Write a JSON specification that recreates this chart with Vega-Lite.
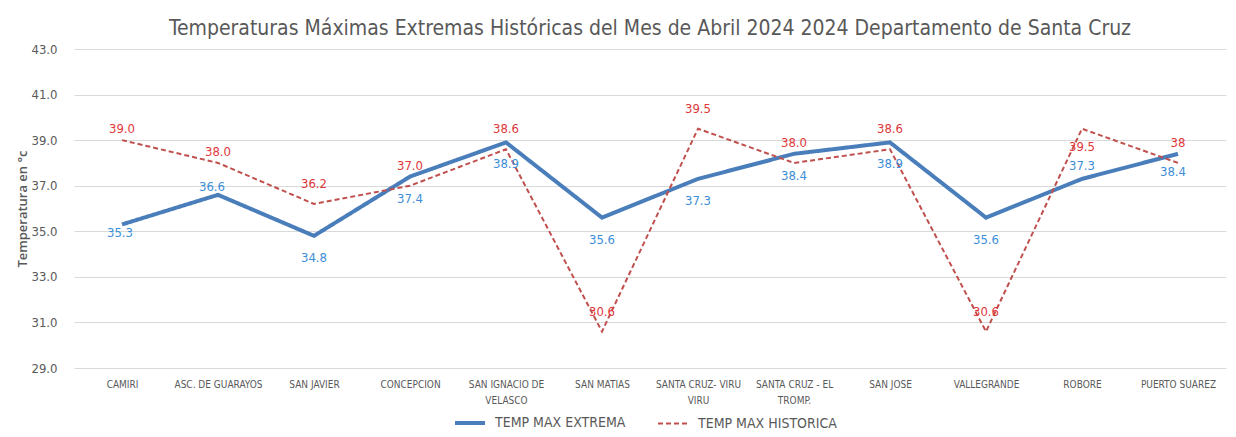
{
  "$schema": "https://vega.github.io/schema/vega-lite/v6.json",
  "autosize": "none",
  "width": 1152,
  "height": 319,
  "padding": {"left": 74, "top": 49, "right": 10, "bottom": 69},
  "background": "white",
  "title": {
    "text": "Temperaturas Máximas Extremas Históricas del Mes de Abril 2024 2024 Departamento de Santa Cruz",
    "font": "Liberation Sans Narrow, DejaVu Sans Condensed, sans-serif",
    "fontSize": 21,
    "fontWeight": "normal",
    "color": "#595959",
    "anchor": "middle",
    "offset": 4
  },
  "data": {
    "values": [
      {"station": "CAMIRI", "extrema": 35.3, "historica": 39.0},
      {"station": "ASC. DE GUARAYOS", "extrema": 36.6, "historica": 38.0},
      {"station": "SAN JAVIER", "extrema": 34.8, "historica": 36.2},
      {"station": "CONCEPCION", "extrema": 37.4, "historica": 37.0},
      {"station": "SAN IGNACIO DE VELASCO", "extrema": 38.9, "historica": 38.6},
      {"station": "SAN MATIAS", "extrema": 35.6, "historica": 30.6},
      {"station": "SANTA CRUZ- VIRU VIRU", "extrema": 37.3, "historica": 39.5},
      {"station": "SANTA CRUZ - EL TROMP.", "extrema": 38.4, "historica": 38.0},
      {"station": "SAN JOSE", "extrema": 38.9, "historica": 38.6},
      {"station": "VALLEGRANDE", "extrema": 35.6, "historica": 30.6},
      {"station": "ROBORE", "extrema": 37.3, "historica": 39.5},
      {"station": "PUERTO SUAREZ", "extrema": 38.4, "historica": 38.0}
    ]
  },
  "encoding": {
    "x": {
      "field": "station",
      "type": "nominal",
      "sort": null,
      "scale": {"type": "point", "padding": 0.5},
      "axis": {
        "title": null,
        "domain": false,
        "ticks": false,
        "grid": false,
        "labelAngle": 0,
        "labelPadding": 11,
        "labelFont": "Liberation Sans Narrow, DejaVu Sans Condensed, sans-serif",
        "labelFontSize": 10,
        "labelColor": "#595959",
        "labelLineHeight": 16,
        "labelExpr": "datum.label == 'SAN IGNACIO DE VELASCO' ? ['SAN IGNACIO DE', 'VELASCO'] : datum.label == 'SANTA CRUZ- VIRU VIRU' ? ['SANTA CRUZ- VIRU', 'VIRU'] : datum.label == 'SANTA CRUZ - EL TROMP.' ? ['SANTA CRUZ - EL', 'TROMP.'] : datum.label"
      }
    }
  },
  "layer": [
    {
      "mark": {"type": "line", "strokeWidth": 4},
      "encoding": {
        "y": {
          "field": "extrema",
          "type": "quantitative",
          "scale": {"domain": [29, 43], "nice": false, "zero": false},
          "axis": {
            "title": "Temperatura en °c",
            "titleFont": "Open Sans, sans-serif",
            "titleFontSize": 13,
            "titleFontWeight": 600,
            "titleColor": "#595959",
            "titlePadding": 1,
            "values": [29, 31, 33, 35, 37, 39, 41, 43],
            "format": ".1f",
            "domain": false,
            "ticks": false,
            "labelPadding": 17,
            "labelFont": "Liberation Sans Narrow, DejaVu Sans Condensed, sans-serif",
            "labelFontSize": 13,
            "labelColor": "#595959",
            "gridColor": "#D9D9D9",
            "gridWidth": 1
          }
        },
        "color": {
          "datum": "TEMP MAX EXTREMA",
          "scale": {"domain": ["TEMP MAX EXTREMA", "TEMP MAX HISTORICA"], "range": ["#4A7EBB", "#C0504D"]},
          "legend": {
            "title": null,
            "orient": "bottom",
            "direction": "horizontal",
            "offset": 11,
            "symbolType": "stroke",
            "symbolSize": 900,
            "columnPadding": 28,
            "labelFont": "Liberation Sans Narrow, DejaVu Sans Condensed, sans-serif",
            "labelFontSize": 14,
            "labelColor": "#595959",
            "labelOffset": 18,
            "encode": {
              "symbols": {
                "update": {
                  "strokeWidth": {"signal": "datum.value === 'TEMP MAX EXTREMA' ? 4 : 2"}
                }
              }
            }
          }
        },
        "strokeDash": {
          "datum": "TEMP MAX EXTREMA",
          "scale": {"domain": ["TEMP MAX EXTREMA", "TEMP MAX HISTORICA"], "range": [[1, 0], [5, 3]]},
          "legend": null
        }
      }
    },
    {
      "mark": {"type": "line", "strokeWidth": 2},
      "encoding": {
        "y": {"field": "historica", "type": "quantitative"},
        "color": {"datum": "TEMP MAX HISTORICA"},
        "strokeDash": {"datum": "TEMP MAX HISTORICA"}
      }
    },
    {
      "transform": [{"filter": {"field": "station", "oneOf": ["SAN JAVIER", "CONCEPCION", "SAN IGNACIO DE VELASCO", "SAN MATIAS", "SANTA CRUZ- VIRU VIRU", "SANTA CRUZ - EL TROMP.", "SAN JOSE", "VALLEGRANDE"]}}],
      "mark": {"type": "text", "dy": 22, "fontSize": 13, "font": "Liberation Sans Narrow, DejaVu Sans Condensed, sans-serif", "color": "#3D8ED8"},
      "encoding": {"y": {"field": "extrema", "type": "quantitative"}, "text": {"field": "extrema", "type": "quantitative", "format": ".1f"}}
    },
    {
      "transform": [{"filter": {"field": "station", "equal": "CAMIRI"}}],
      "mark": {"type": "text", "dy": 9, "dx": -2, "fontSize": 13, "font": "Liberation Sans Narrow, DejaVu Sans Condensed, sans-serif", "color": "#3D8ED8"},
      "encoding": {"y": {"field": "extrema", "type": "quantitative"}, "text": {"field": "extrema", "type": "quantitative", "format": ".1f"}}
    },
    {
      "transform": [{"filter": {"field": "station", "equal": "ASC. DE GUARAYOS"}}],
      "mark": {"type": "text", "dy": -8, "dx": -6, "fontSize": 13, "font": "Liberation Sans Narrow, DejaVu Sans Condensed, sans-serif", "color": "#3D8ED8"},
      "encoding": {"y": {"field": "extrema", "type": "quantitative"}, "text": {"field": "extrema", "type": "quantitative", "format": ".1f"}}
    },
    {
      "transform": [{"filter": {"field": "station", "equal": "ROBORE"}}],
      "mark": {"type": "text", "dy": -13, "fontSize": 13, "font": "Liberation Sans Narrow, DejaVu Sans Condensed, sans-serif", "color": "#3D8ED8"},
      "encoding": {"y": {"field": "extrema", "type": "quantitative"}, "text": {"field": "extrema", "type": "quantitative", "format": ".1f"}}
    },
    {
      "transform": [{"filter": {"field": "station", "equal": "PUERTO SUAREZ"}}],
      "mark": {"type": "text", "dy": 18, "dx": -5, "fontSize": 13, "font": "Liberation Sans Narrow, DejaVu Sans Condensed, sans-serif", "color": "#3D8ED8"},
      "encoding": {"y": {"field": "extrema", "type": "quantitative"}, "text": {"field": "extrema", "type": "quantitative", "format": ".1f"}}
    },
    {
      "transform": [{"filter": {"field": "station", "oneOf": ["SAN JAVIER", "CONCEPCION", "SAN IGNACIO DE VELASCO", "SAN MATIAS", "SANTA CRUZ- VIRU VIRU", "SANTA CRUZ - EL TROMP.", "SAN JOSE", "VALLEGRANDE"]}}],
      "mark": {"type": "text", "dy": -20, "fontSize": 13, "font": "Liberation Sans Narrow, DejaVu Sans Condensed, sans-serif", "color": "#E0373B"},
      "encoding": {"y": {"field": "historica", "type": "quantitative"}, "text": {"field": "historica", "type": "quantitative", "format": ".1f"}}
    },
    {
      "transform": [{"filter": {"field": "station", "oneOf": ["CAMIRI", "ASC. DE GUARAYOS"]}}],
      "mark": {"type": "text", "dy": -11, "fontSize": 13, "font": "Liberation Sans Narrow, DejaVu Sans Condensed, sans-serif", "color": "#E0373B"},
      "encoding": {"y": {"field": "historica", "type": "quantitative"}, "text": {"field": "historica", "type": "quantitative", "format": ".1f"}}
    },
    {
      "transform": [{"filter": {"field": "station", "equal": "ROBORE"}}],
      "mark": {"type": "text", "dy": 18, "fontSize": 13, "font": "Liberation Sans Narrow, DejaVu Sans Condensed, sans-serif", "color": "#E0373B"},
      "encoding": {"y": {"field": "historica", "type": "quantitative"}, "text": {"field": "historica", "type": "quantitative", "format": ".1f"}}
    },
    {
      "transform": [{"filter": {"field": "station", "equal": "PUERTO SUAREZ"}}],
      "mark": {"type": "text", "dy": -20, "fontSize": 13, "font": "Liberation Sans Narrow, DejaVu Sans Condensed, sans-serif", "color": "#E0373B"},
      "encoding": {"y": {"field": "historica", "type": "quantitative"}, "text": {"field": "historica", "type": "quantitative", "format": "d"}}
    }
  ],
  "config": {
    "view": {"stroke": null},
    "legend": {"layout": {"bottom": {"anchor": "middle"}}}
  }
}
